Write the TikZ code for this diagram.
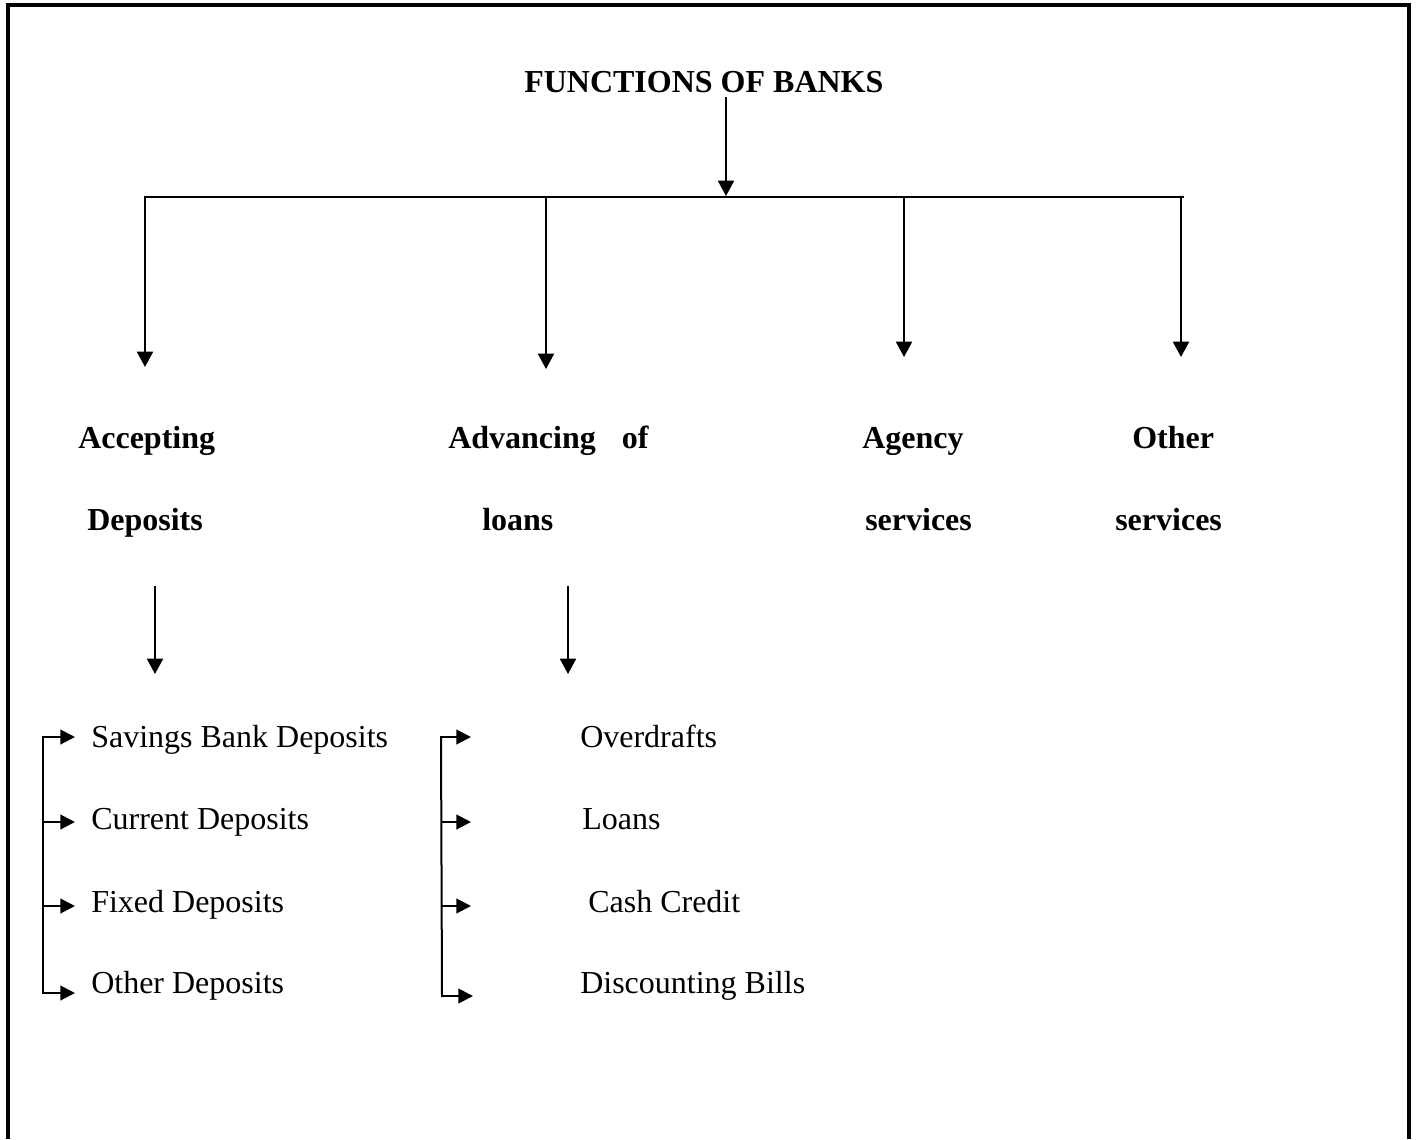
\documentclass[tikz,border=0pt]{standalone}
\usepackage{fontspec}
\setmainfont{Liberation Serif}
\usetikzlibrary{arrows.meta}
\begin{document}
\begin{tikzpicture}[x=0.75pt,y=-0.75pt,
  lbl/.style={anchor=base west, inner sep=0pt, font=\fontsize{24}{28}\selectfont},
  hd/.style={anchor=base west, inner sep=0pt, font=\fontsize{24}{28}\selectfont\bfseries},
  conn/.style={line width=1.5pt, -{Triangle[length=11.5pt,width=12pt]}},
  subconn/.style={line width=1.5pt, -{Triangle[length=11pt,width=11pt]}},
  plain/.style={line width=1.5pt, line cap=rect},
  framestyle/.style={line width=2.3pt}]
\useasboundingbox (0,0) rectangle (1416,1139);
\draw[framestyle] (8,1139) -- (8,5) -- (1409,5) -- (1409,1139);

% title
\node[hd] (title) at (524,92) {FUNCTIONS OF BANKS};
\coordinate (t0) at (726,97);
\coordinate (tb) at (726,196);
\draw[conn] (t0) -- (tb);

% bus
\coordinate (busL) at (145,197);
\coordinate (busR) at (1183,197);
\draw[plain] (busL) -- (busR);
\coordinate (b1) at (145,197);  \coordinate (e1) at (145,367);
\coordinate (b2) at (546,197);  \coordinate (e2) at (546,369);
\coordinate (b3) at (904,197);  \coordinate (e3) at (904,357);
\coordinate (b4) at (1181,197); \coordinate (e4) at (1181,357);
\draw[conn] (b1) -- (e1);
\draw[conn] (b2) -- (e2);
\draw[conn] (b3) -- (e3);
\draw[conn] (b4) -- (e4);

% headings
\node[hd] (acc1) at (78,448) {Accepting};
\node[hd] (acc2) at (87,530) {Deposits};
\node[hd] (adv1) at (448,448) {Advancing\hspace{19.5pt}of};
\node[hd] (adv2) at (482,530) {loans};
\node[hd] (agy1) at (862,448) {Agency};
\node[hd] (agy2) at (865,530) {services};
\node[hd] (oth1) at (1132,448) {Other};
\node[hd] (oth2) at (1115,530) {services};

% second-level arrows
\coordinate (d0) at (155,586); \coordinate (d1) at (155,674);
\coordinate (l0) at (568,586); \coordinate (l1) at (568,674);
\draw[conn] (d0) -- (d1);
\draw[conn] (l0) -- (l1);

% deposits list
\node[lbl] (sav)  at (91,747) {Savings Bank Deposits};
\node[lbl] (cur)  at (91,829) {Current Deposits};
\node[lbl] (fix)  at (91,912) {Fixed Deposits};
\node[lbl] (othd) at (91,993) {Other Deposits};
\coordinate (la1) at (43,737); \coordinate (la2) at (43,822);
\coordinate (la3) at (43,906); \coordinate (la4) at (43,993);
\draw[plain] (la1) -- (la4);
\draw[subconn] (la1) -- (75,737);
\draw[subconn] (la2) -- (75,822);
\draw[subconn] (la3) -- (75,906);
\draw[subconn] (la4) -- (75,993);

% loans list
\node[lbl] (ovd)  at (580,747) {Overdrafts};
\node[lbl] (loa)  at (582,829) {Loans};
\node[lbl] (cash) at (588,912) {Cash Credit};
\node[lbl] (disc) at (580,993) {Discounting Bills};
\coordinate (ra1) at (441,737); \coordinate (ra2) at (441,822);
\coordinate (ra3) at (441,906); \coordinate (ra4) at (442,996);
\draw[plain] (ra1) -- (ra4);
\draw[subconn] (ra1) -- (471,737);
\draw[subconn] (ra2) -- (471,822);
\draw[subconn] (ra3) -- (471,906);
\draw[subconn] (ra4) -- (473,996);
\end{tikzpicture}
\end{document}
